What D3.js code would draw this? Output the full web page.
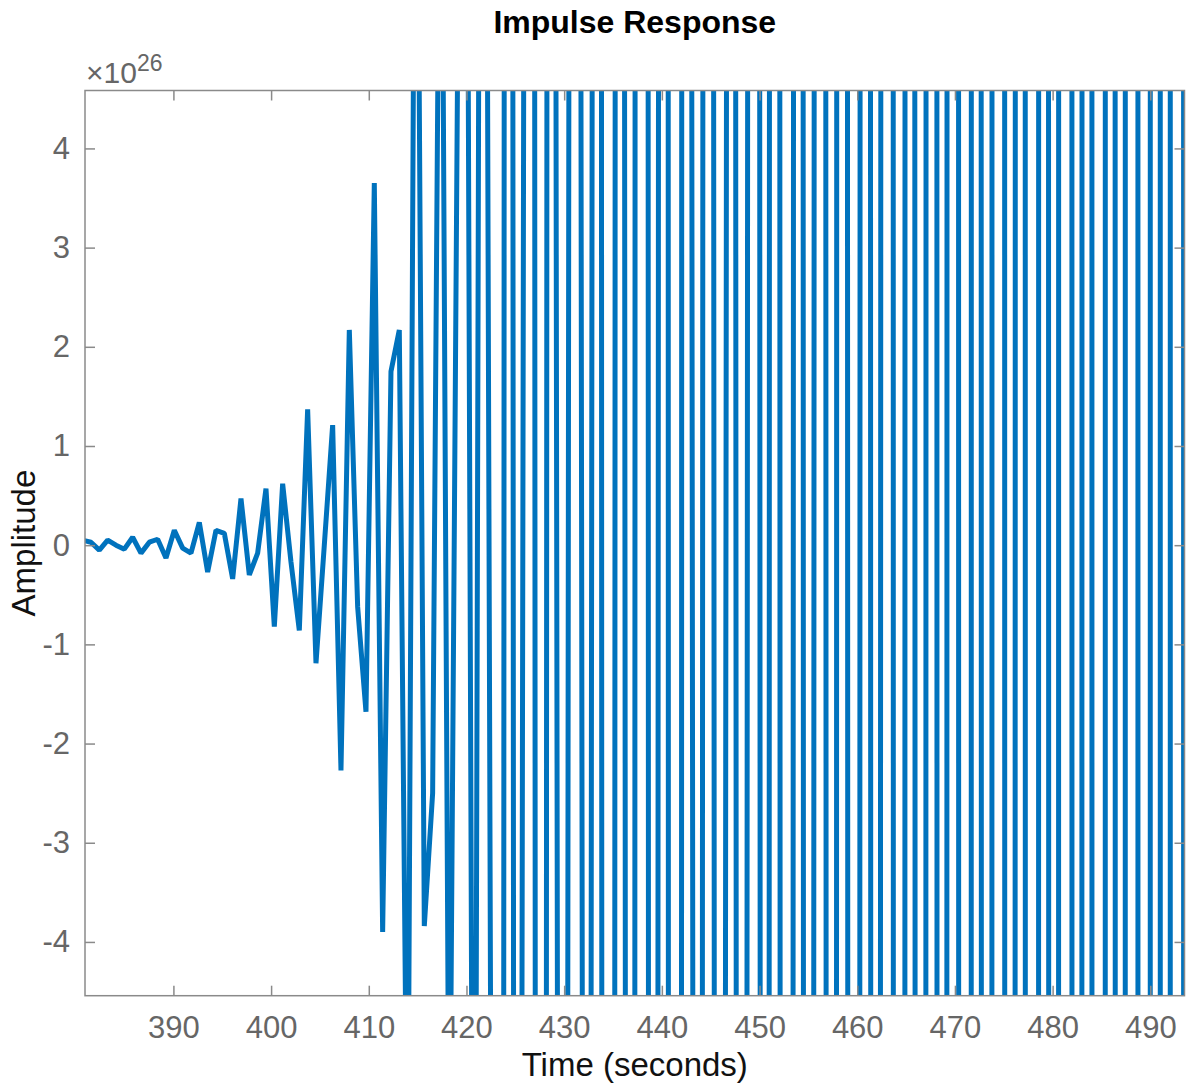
<!DOCTYPE html>
<html>
<head>
<meta charset="utf-8">
<script src="https://cdn.jsdelivr.net/npm/d3@7"></script>
<style>
  html, body { margin: 0; padding: 0; background: #fff; }
  svg { display: block; }
  text { font-family: "Liberation Sans", Arial, Helvetica, sans-serif; }
</style>
</head>
<body>
<script>
// ---- data (amplitude in units of 1e26) ----
const startTime = 380.71;      // seconds, first sample
const sampleTime = 0.853;      // seconds between samples
const amplitude = [
  0.05, 0.03, -0.05, 0.05, 0.0, -0.04, 0.08, -0.08, 0.03, 0.06,
  -0.13, 0.15, -0.03, -0.08, 0.23, -0.27, 0.15, 0.12, -0.34, 0.47,
  -0.30, -0.08, 0.57, -0.82, 0.62, -0.17, -0.86, 1.37, -1.19, 0.0,
  1.21, -2.27, 2.17, -0.62, -1.68, 3.65, -3.9, 1.75, 2.17, -7,
  10, -3.84, -2.5, 9, -7, 4.9, 11, -12, 20, -6,
  -95, 75, -37, 8, 40, -103, 48, -6, -20, 51,
  -7, -6, 69, -177, 24, 8, -92, 237, -32, -10,
  133, -342, 47, 12, -63, 95, -30, -15, 60, -90,
  28, 45, -117, 174, -81, -50, 129, -139, 44, 50,
  -200, 217, -54, -80, 206, -162, 51, 200, -514, 242,
  -33, -100, 400, -369, 144, 90, -660, 371, -71, -100,
  733, -395, 39, 150, -1100, 428, -37, -200, 1467, -570,
  50, 250, -1833, 713, -70, -300, 2200, -1238, -300, 2200,
  -4675, 4315, 400, -2933
];
const xTicks = [390, 400, 410, 420, 430, 440, 450, 460, 470, 480, 490];
const yTicks = [-4, -3, -2, -1, 0, 1, 2, 3, 4];
const xDomain = [380.95, 493.5];
const yDomain = [-4.542, 4.584];
const exponentLabel = "26";
const titleText = "Impulse Response";
const xLabelText = "Time (seconds)";
const yLabelText = "Amplitude";

const samples = amplitude.map((v, i) => ({ t: startTime + i * sampleTime, v }));

// ---- layout ----
const W = 1187, H = 1083;
const L = 85, R = 1184.5, T = 90.5, B = 995.7;
const axisColor = "#8a8a8a";
const tickTextColor = "#666666";
const lineColor = "#0072BD";

const svg = d3.select("body").append("svg").attr("width", W).attr("height", H);

const x = d3.scaleLinear().domain(xDomain).range([L, R]);
const y = d3.scaleLinear().domain(yDomain).range([B, T]);

svg.append("defs").append("clipPath").attr("id", "plotclip")
  .append("rect").attr("x", L).attr("y", T).attr("width", R - L).attr("height", B - T);

// data line
const line = d3.line().x(d => x(d.t)).y(d => y(d.v));
svg.append("path")
  .datum(samples)
  .attr("clip-path", "url(#plotclip)")
  .attr("fill", "none")
  .attr("stroke", lineColor)
  .attr("stroke-width", 5)
  .attr("stroke-linejoin", "bevel")
  .attr("d", line);

// axes
function styleAxis(g, showLabels) {
  g.select(".domain").remove();
  g.selectAll(".tick line").attr("stroke", axisColor).attr("stroke-width", 1.5);
  g.selectAll(".tick text")
    .attr("fill", tickTextColor)
    .style("font-size", "31px")
    .style("font-family", "'Liberation Sans', Arial, Helvetica, sans-serif");
  if (!showLabels) g.selectAll(".tick text").remove();
}
const plainFmt = d => String(d);

svg.append("g").attr("transform", `translate(0,${B})`)
  .call(d3.axisBottom(x).tickValues(xTicks).tickSizeInner(-10).tickSizeOuter(0).tickPadding(20).tickFormat(plainFmt))
  .call(g => styleAxis(g, true));
svg.append("g").attr("transform", `translate(0,${T})`)
  .call(d3.axisTop(x).tickValues(xTicks).tickSizeInner(-10).tickSizeOuter(0))
  .call(g => styleAxis(g, false));
svg.append("g").attr("transform", `translate(${L},0)`)
  .call(d3.axisLeft(y).tickValues(yTicks).tickSizeInner(-10).tickSizeOuter(0).tickPadding(15).tickFormat(plainFmt))
  .call(g => styleAxis(g, true));
svg.append("g").attr("transform", `translate(${R},0)`)
  .call(d3.axisRight(y).tickValues(yTicks).tickSizeInner(-10).tickSizeOuter(0))
  .call(g => styleAxis(g, false));

// box
svg.append("rect")
  .attr("x", L).attr("y", T).attr("width", R - L).attr("height", B - T)
  .attr("fill", "none").attr("stroke", axisColor).attr("stroke-width", 1.5);

// exponent label
const ex = svg.append("text").attr("x", 86).attr("y", 83).attr("fill", tickTextColor);
ex.append("tspan").style("font-size", "30px").text("\u00D710");
ex.append("tspan").style("font-size", "23px").attr("dy", -12).text(exponentLabel);

// title
svg.append("text")
  .attr("x", (L + R) / 2).attr("y", 33)
  .attr("text-anchor", "middle")
  .style("font-size", "32px").style("font-weight", "bold")
  .attr("fill", "#000")
  .text(titleText);

// x label
svg.append("text")
  .attr("x", (L + R) / 2).attr("y", 1076)
  .attr("text-anchor", "middle")
  .style("font-size", "33px")
  .attr("fill", "#111")
  .text(xLabelText);

// y label
svg.append("text")
  .attr("transform", `translate(35,${(T + B) / 2}) rotate(-90)`)
  .attr("text-anchor", "middle")
  .style("font-size", "33px")
  .attr("fill", "#111")
  .text(yLabelText);
</script>
</body>
</html>
